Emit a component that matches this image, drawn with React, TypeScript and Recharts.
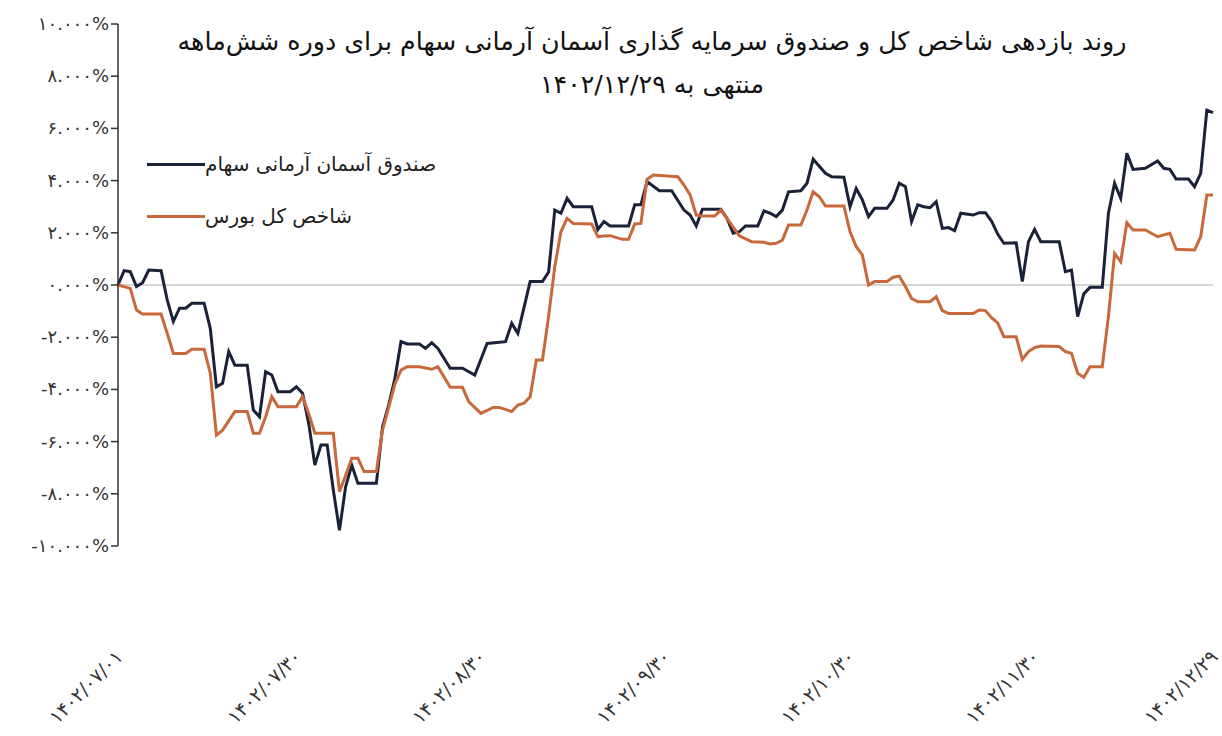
import React from "react";
import { LineChart, Line, XAxis, YAxis, ReferenceLine } from "recharts";

// Day index (0 = 1402/07/01) and cumulative return (%) – fund
const fundDays = [0,1,2,3,4,5,7,8,9,10,11,12,14,15,16,17,18,19,21,22,23,24,25,26,28,29,30,31,32,33,34,35,36,37,38,39,42,43,44,45,46,47,49,50,51,52,54,56,58,60,63,64,65,67,69,70,71,72,73,74,77,78,79,80,83,84,85,86,88,90,92,93,94,95,98,99,100,101,102,104,105,106,107,108,109,111,112,113,115,116,118,119,120,121,122,123,125,126,127,128,129,130,131,132,133,134,135,136,137,139,140,141,142,143,144,146,147,148,149,150,153,154,155,156,157,158,160,161,162,163,164,165,167,169,170,171,172,174,175,176,177,178];
const fundValues = [0,0.55,0.51,-0.06,0.09,0.57,0.55,-0.57,-1.4,-0.89,-0.89,-0.7,-0.7,-1.66,-3.9,-3.77,-2.55,-3.07,-3.07,-4.79,-5.05,-3.32,-3.45,-4.09,-4.09,-3.9,-4.15,-5.3,-6.9,-6.13,-6.13,-7.85,-9.4,-7.73,-6.9,-7.6,-7.6,-5.43,-4.6,-3.6,-2.17,-2.26,-2.26,-2.43,-2.21,-2.43,-3.19,-3.19,-3.45,-2.24,-2.17,-1.47,-1.85,0.13,0.13,0.5,2.87,2.75,3.32,3.0,3.0,2.13,2.43,2.26,2.26,3.07,3.07,3.96,3.61,3.61,2.87,2.68,2.26,2.9,2.9,2.55,1.98,2.04,2.26,2.26,2.84,2.75,2.62,2.87,3.57,3.61,3.9,4.82,4.28,4.15,4.13,3.0,3.7,3.26,2.62,2.94,2.94,3.26,3.9,3.77,2.43,3.07,3.0,2.96,3.19,2.17,2.2,2.08,2.75,2.68,2.77,2.77,2.45,1.95,1.6,1.62,0.13,1.66,2.13,1.66,1.66,0.51,0.57,-1.21,-0.34,-0.09,-0.09,2.75,3.9,3.32,5.05,4.43,4.47,4.75,4.47,4.43,4.06,4.06,3.77,4.28,6.7,6.6];

// Day index and cumulative return (%) – TEDPIX
const indexDays = [0,2,3,4,7,8,9,11,12,14,15,16,17,19,21,22,23,24,25,26,28,29,30,31,32,34,35,36,37,38,39,40,42,43,44,45,46,47,49,51,52,54,56,57,59,61,62,64,65,66,67,68,69,70,71,72,73,74,77,78,79,80,82,83,84,85,86,87,91,92,93,94,95,97,98,99,101,103,105,106,107,108,109,111,112,113,114,115,118,119,120,121,122,123,125,126,127,128,129,130,132,133,134,135,139,140,141,142,143,144,146,147,148,149,150,153,154,155,156,157,158,160,161,162,163,164,165,167,169,170,171,172,175,176,177,178];
const indexValues = [0,-0.13,-0.96,-1.11,-1.11,-1.85,-2.62,-2.62,-2.46,-2.46,-3.38,-5.75,-5.56,-4.85,-4.85,-5.68,-5.68,-5.05,-4.28,-4.66,-4.66,-4.66,-4.28,-4.92,-5.68,-5.68,-5.68,-7.92,-7.3,-6.64,-6.64,-7.15,-7.15,-5.56,-4.7,-3.8,-3.26,-3.13,-3.13,-3.23,-3.13,-3.92,-3.92,-4.47,-4.92,-4.69,-4.69,-4.85,-4.6,-4.53,-4.28,-2.87,-2.87,-1.2,0.7,2.04,2.55,2.36,2.34,1.85,1.88,1.89,1.75,1.75,2.34,2.36,4.05,4.21,4.15,3.83,3.45,2.68,2.64,2.64,2.87,2.55,1.88,1.66,1.64,1.57,1.6,1.72,2.3,2.3,2.87,3.57,3.38,3.03,3.03,2.04,1.47,1.15,0,0.13,0.13,0.3,0.34,-0.06,-0.51,-0.64,-0.64,-0.45,-0.98,-1.09,-1.09,-0.96,-0.98,-1.25,-1.45,-1.98,-1.98,-2.85,-2.55,-2.4,-2.34,-2.36,-2.55,-2.62,-3.38,-3.54,-3.13,-3.13,-1.21,1.21,0.89,2.39,2.11,2.11,1.85,1.92,1.98,1.37,1.34,1.85,3.45,3.45];

const xTickDays = [0, 29, 59, 89, 119, 149, 178];
const xTickLabels = ["۱۴۰۲/۰۷/۰۱", "۱۴۰۲/۰۷/۳۰", "۱۴۰۲/۰۸/۳۰", "۱۴۰۲/۰۹/۳۰", "۱۴۰۲/۱۰/۳۰", "۱۴۰۲/۱۱/۳۰", "۱۴۰۲/۱۲/۲۹"];
const yTicks = [-10, -8, -6, -4, -2, 0, 2, 4, 6, 8, 10];
const yTickLabels = ["-۱۰.۰۰۰%", "-۸.۰۰۰%", "-۶.۰۰۰%", "-۴.۰۰۰%", "-۲.۰۰۰%", "۰.۰۰۰%", "۲.۰۰۰%", "۴.۰۰۰%", "۶.۰۰۰%", "۸.۰۰۰%", "۱۰.۰۰۰%"];

const seriesNames = ["صندوق آسمان آرمانی سهام", "شاخص کل بورس"];
const titleLines = ["روند بازدهی شاخص کل و صندوق سرمایه گذاری آسمان آرمانی سهام برای دوره شش‌ماهه", "منتهی به ۱۴۰۲/۱۲/۲۹"];

const FUND_COLOR = "#1a2139";
const INDEX_COLOR = "#c8683b";
const FONT = "'DejaVu Sans', sans-serif";

const fundData = fundDays.map((d, i) => ({ day: d, v: fundValues[i] }));
const indexData = indexDays.map((d, i) => ({ day: d, v: indexValues[i] }));

const XTick = (props: any) => {
  const { x, y, payload } = props;
  const idx = xTickDays.indexOf(payload.value);
  const ax = x + 6;
  const ay = y + 104;
  return (
    <text x={ax} y={ay} transform={`rotate(-45 ${ax} ${ay})`} textAnchor="end" fontSize={19} style={{ letterSpacing: "0.5px" }} fill="#333" fontFamily={FONT}>
      {idx >= 0 ? xTickLabels[idx] : ""}
    </text>
  );
};

const YTick = (props: any) => {
  const { x, y, payload } = props;
  const idx = yTicks.indexOf(payload.value);
  return (
    <text x={x} y={y} dy={6} textAnchor="end" fontSize={18} style={{ letterSpacing: "2.5px" }} fill="#333" fontFamily={FONT}>
      {idx >= 0 ? yTickLabels[idx] : ""}
    </text>
  );
};

export default function App() {
  return (
    <div style={{ position: "absolute", left: 0, top: 0, width: 1222, height: 736, background: "#fff", overflow: "hidden" }}>
      <LineChart width={1222} height={736} data={fundData} margin={{ top: 24, right: 9, bottom: 0, left: 0 }}>
        <XAxis
          dataKey="day"
          type="number"
          domain={[0, 178]}
          ticks={xTickDays}
          tick={<XTick />}
          axisLine={false}
          tickLine={false}
          height={190}
          interval={0}
        />
        <YAxis
          type="number"
          domain={[-10, 10]}
          ticks={yTicks}
          interval={0}
          width={118}
          tick={<YTick />}
          axisLine={{ stroke: "#333", strokeWidth: 1.5 }}
          tickLine={{ stroke: "#333", strokeWidth: 1.5 }}
          tickSize={7}
        />
        <ReferenceLine y={0} stroke="#c9c9c9" strokeWidth={1.5} />
        <Line data={fundData} dataKey="v" type="linear" stroke={FUND_COLOR} strokeWidth={3} dot={false} isAnimationActive={false} />
        <Line data={indexData} dataKey="v" type="linear" stroke={INDEX_COLOR} strokeWidth={3} dot={false} isAnimationActive={false} />
      </LineChart>
      <div style={{ position: "absolute", left: 147, top: 151, display: "flex", flexDirection: "column", gap: 26, fontFamily: FONT }}>
        {[FUND_COLOR, INDEX_COLOR].map((c, i) => (
          <div key={i} style={{ display: "flex", alignItems: "center" }}>
            <div style={{ width: 58, height: 3, background: c }} />
            <div style={{ direction: "rtl", fontSize: 20, color: "#222", lineHeight: "26px" }}>{seriesNames[i]}</div>
          </div>
        ))}
      </div>
      <div style={{ position: "absolute", left: 150, width: 1004, top: 20, textAlign: "center", direction: "rtl", fontFamily: FONT, fontSize: 25.3, color: "#111", lineHeight: "43px" }}>
        <div>{titleLines[0]}</div>
        <div>{titleLines[1]}</div>
      </div>
    </div>
  );
}
